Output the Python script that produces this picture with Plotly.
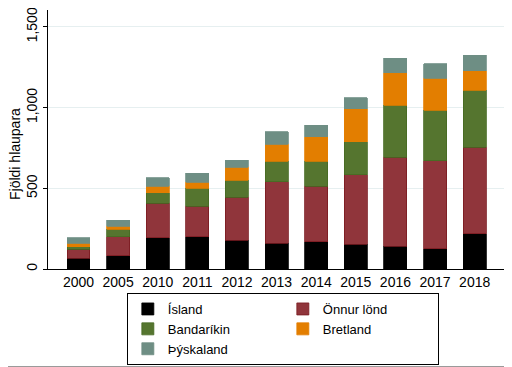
import plotly.graph_objects as go

years = ["2000", "2005", "2010", "2011", "2012", "2013", "2014", "2015", "2016", "2017", "2018"]
island = [67, 81, 193, 199, 177, 159, 168, 154, 140, 126, 220]
onnur = [55, 118, 213, 189, 268, 381, 344, 431, 553, 545, 534]
bandarikin = [16, 47, 65, 112, 106, 127, 155, 203, 321, 313, 353]
bretland = [22, 18, 41, 38, 79, 105, 152, 204, 201, 199, 122]
thyskaland = [35, 38, 53, 55, 43, 78, 71, 69, 92, 89, 96]
y_title = "Fjöldi hlaupara"

series = [
    ("Ísland", island, "#000000", "#000000"),
    ("Önnur lönd", onnur, "#90353b", "#7a1a20"),
    ("Bandaríkin", bandarikin, "#55752f", "#466a22"),
    ("Bretland", bretland, "#e37e00", "#e37e00"),
    ("Þýskaland", thyskaland, "#6e8e84", "#6e8e84"),
]

fig = go.Figure()
for name, vals, col, lcol in series:
    fig.add_trace(go.Bar(
        x=years, y=vals, name=name,
        marker=dict(color=col, line=dict(color=lcol, width=0.8)),
        width=0.58,
    ))

# page body adds an 8px offset, so the figure is 8px smaller than the window
W, H, L, T, B, R = 504, 359, 40, 2, 98, 8
pw, ph = W - L - R, H - T - B


def px(x):
    return (x - L) / pw


def py(y):
    return (H - B - y) / ph


font = "Liberation Sans, Arial, sans-serif"
fig.update_layout(
    barmode="stack",
    width=W, height=H,
    margin=dict(l=L, r=R, t=T, b=B, autoexpand=False),
    paper_bgcolor="white", plot_bgcolor="white",
    font=dict(family=font, size=14, color="#000000"),
    showlegend=True,
    legend=dict(
        orientation="h", x=0.515, xanchor="center", y=-24 / ph, yanchor="top",
        bordercolor="#000000", borderwidth=1, entrywidth=110,
        font=dict(family=font, size=13), traceorder="normal",
        tracegroupgap=0,
    ),
    xaxis=dict(
        type="category", range=[-0.77, 10.74],
        showline=True, linecolor="#000000", linewidth=1,
        ticks="", showgrid=False, tickfont=dict(size=14),
    ),
    yaxis=dict(
        range=[0, 1605], tickvals=[0, 500, 1000, 1500],
        ticktext=["0", "500", "1,000", "1,500"], tickangle=-90,
        showline=True, linecolor="#000000", linewidth=1,
        ticks="outside", ticklen=4, tickcolor="#000000",
        ticklabeloverflow="allow",
        showgrid=True, gridcolor="#e6eff0", gridwidth=1,
        zeroline=False, tickfont=dict(size=14),
    ),
    annotations=[dict(
        text=y_title, xref="paper", yref="paper",
        x=px(7), y=py(146), xanchor="center", yanchor="middle",
        textangle=-90, showarrow=False, font=dict(size=14, family=font),
    )],
    shapes=[dict(
        type="rect", xref="paper", yref="paper",
        x0=px(-0.5), x1=px(503.5), y0=py(358.5), y1=py(-0.5),
        line=dict(color="#9a9a9a", width=1), fillcolor="rgba(0,0,0,0)",
        layer="below",
    )],
)

fig.write_html("out.html")
